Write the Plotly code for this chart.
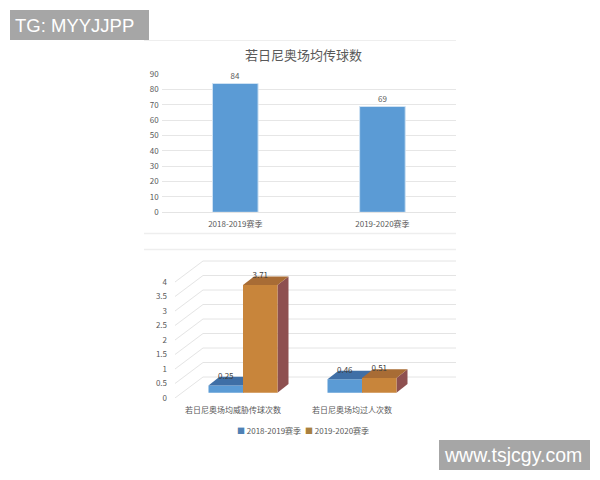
"""Rebuild of the two Jorginho bar charts, 600x480"""

import plotly.graph_objects as go

CJK = 'Noto Sans CJK SC'

# Top chart data
top_title = '若日尼奥场均传球数'
seasons = ['2018-2019赛季', '2019-2020赛季']
passes = [84, 69]
top_ticks = [0, 10, 20, 30, 40, 50, 60, 70, 80, 90]

# Bottom chart data
bottom_cats = ['若日尼奥场均威胁传球次数', '若日尼奥场均过人次数']
values_2018 = [0.25, 0.46]
values_2019 = [3.71, 0.51]
bottom_ticks = [0, 0.5, 1, 1.5, 2, 2.5, 3, 3.5, 4]
bottom_tick_text = ['0', '0.5', '1', '1.5', '2', '2.5', '3', '3.5', '4']

# Fake 3D settings, pixels of the picture
CAT_PX = 119        # distance between the two clusters
VALUE_PX = 29       # pixels for one unit of value
CENTER_PX = 243     # x of first cluster centre
ZERO_PX = 398       # y of value 0 on the front edge
BAR_PX = 34.5
WALL_DX, WALL_DY = 28, 21
BAR_SHIFT_DY = 5.3
BAR_DX, BAR_DY = 11, 8.7

# The page body has an 8px margin, so the figure starts at (8, 8)
PAGE = 8
W, H = 600 - PAGE, 480 - PAGE


def px_x(p):
    return (p - PAGE) / W


def px_y(p):
    return 1 - (p - PAGE) / H


def cat_x(p):
    """Picture x to bottom chart x units"""
    return (p - CENTER_PX) / CAT_PX


def face(fig, xs, ys, color):
    """One filled face of a fake 3D column"""
    fig.add_trace(go.Scatter(
        x=xs + xs[:1], y=ys + ys[:1],
        mode='lines', fill='toself', fillcolor=color,
        line=dict(width=0), hoverinfo='skip', showlegend=False,
        xaxis='x2', yaxis='y2'
    ))


def column(fig, cat, side, value, front, top, right):
    """Column for a value, side is -1 left of the cluster centre, 0 right of it"""
    w = BAR_PX / CAT_PX
    dx = BAR_DX / CAT_PX
    dy = BAR_DY / VALUE_PX
    base = BAR_SHIFT_DY / VALUE_PX
    x0 = cat + side * w
    x1 = x0 + w
    y1 = base + value
    face(fig, [x1, x1 + dx, x1 + dx, x1], [base, base + dy, y1 + dy, y1], right)
    face(fig, [x0, x1, x1, x0], [base, base, y1, y1], front)
    face(fig, [x0, x1, x1 + dx, x0 + dx], [y1, y1, y1 + dy, y1 + dy], top)
    fig.add_trace(go.Scatter(
        x=[(x0 + x1) / 2], y=[y1 + 0.3], text=[value], mode='text',
        textfont=dict(size=8, color='#404040', family=CJK),
        hoverinfo='skip', showlegend=False, xaxis='x2', yaxis='y2'
    ))


def note(text, x, y, size, color, family=CJK, xanchor='center'):
    """Text placed by picture pixels"""
    return dict(text=text, xref='paper', yref='paper', x=px_x(x), y=px_y(y),
                xanchor=xanchor, yanchor='middle', showarrow=False,
                font=dict(size=size, color=color, family=family))


def hline(y, width):
    return dict(type='line', xref='paper', yref='paper', x0=px_x(144), x1=px_x(456),
                y0=px_y(y), y1=px_y(y), line=dict(color='#eeeeee', width=width))


def box(x0, x1, y0, y1):
    return dict(type='rect', xref='paper', yref='paper', x0=px_x(x0), x1=px_x(x1),
                y0=px_y(y1), y1=px_y(y0), fillcolor='#a6a6a6', line=dict(width=0))


fig = go.Figure()

# Top bars
fig.add_trace(go.Bar(
    x=seasons, y=passes, text=passes, textposition='outside', cliponaxis=False,
    width=0.31, marker=dict(color='#5b9bd5', line=dict(color='#cfe2f3', width=1)),
    textfont=dict(size=8, color='#595959', family=CJK),
    showlegend=False
))

# Bottom chart walls: slanted floor lines and back lines per tick
wall_dy = WALL_DY / VALUE_PX
x_front = cat_x(175)
x_back = cat_x(175 + WALL_DX)
x_end = cat_x(456)
for tick in bottom_ticks:
    fig.add_trace(go.Scatter(
        x=[x_front, x_back, x_end], y=[tick, tick + wall_dy, tick + wall_dy],
        mode='lines', line=dict(color='#e4e4e4', width=1),
        hoverinfo='skip', showlegend=False, xaxis='x2', yaxis='y2'
    ))

# Bottom columns
for i in range(len(bottom_cats)):
    column(fig, i, -1, values_2018[i], '#5b9bd5', '#3f6fa6', '#3f6fa6')
    column(fig, i, 0, values_2019[i], '#c8853b', '#a86c35', '#8e5050')

fig.update_layout(
    width=W, height=H,
    margin=dict(l=0, r=0, t=0, b=0, autoexpand=False),
    paper_bgcolor='white',
    plot_bgcolor='white',
    font=dict(family=CJK, color='#595959', size=8),
    xaxis=dict(
        domain=[px_x(161.7), px_x(456)], type='category',
        showline=True, linecolor='#e4e4e4', ticks='', tickfont=dict(size=8),
        ticklabelstandoff=4
    ),
    yaxis=dict(
        domain=[px_y(212.3), px_y(74.3)], range=[0, 90], tickvals=top_ticks,
        gridcolor='#e6e6e6', gridwidth=1, zeroline=False, ticks='',
        tickfont=dict(size=8), ticklabelstandoff=2
    ),
    xaxis2=dict(
        domain=[px_x(170), px_x(456)], range=[cat_x(170), cat_x(456)],
        anchor='y2', tickvals=[0 - 10 / CAT_PX, 1 - 10 / CAT_PX],
        ticktext=bottom_cats, showgrid=False, zeroline=False, ticks='',
        tickfont=dict(size=8), ticklabelstandoff=6
    ),
    yaxis2=dict(
        domain=[px_y(ZERO_PX), px_y(248)], range=[0, (ZERO_PX - 248) / VALUE_PX],
        anchor='x2', tickvals=bottom_ticks, ticktext=bottom_tick_text,
        showgrid=False, zeroline=False, ticks='',
        tickfont=dict(size=8), ticklabelstandoff=2
    ),
    shapes=[
        hline(40.5, 1),
        hline(233.5, 1.5),
        hline(249.5, 1.5),
        box(10, 149, 10, 40),
        box(439, 590, 440, 470),
    ],
    annotations=[
        note(top_title, 303, 55, 13, '#595959'),
        # legend of the bottom chart
        note(f'<span style="color:#4f81b5">■</span> {seasons[0]}', 269, 430, 8, '#595959'),
        note(f'<span style="color:#a9803f">■</span> {seasons[1]}', 337, 430, 8, '#595959'),
        # watermarks
        note('TG: MYYJJPP', 13, 25.5, 18.5, 'white', 'Liberation Sans', 'left'),
        note('www.tsjcgy.com', 513, 455, 19.5, 'white', 'Liberation Sans'),
    ],
)

fig.write_html('out.html')
